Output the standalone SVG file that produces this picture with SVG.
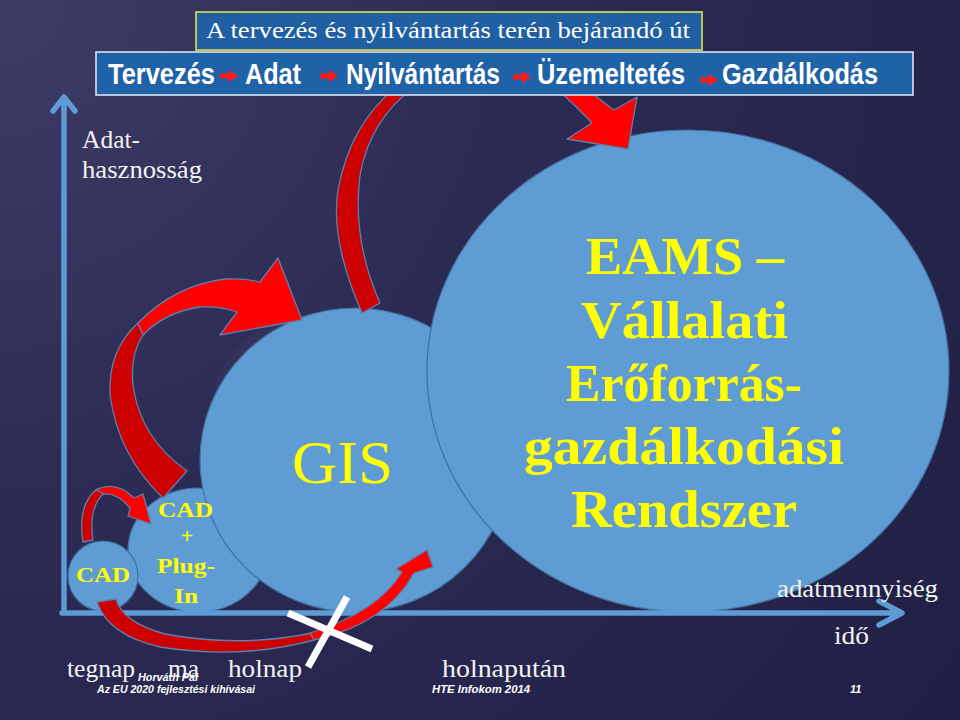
<svg xmlns="http://www.w3.org/2000/svg" width="960" height="720" viewBox="0 0 960 720">
<defs>
<radialGradient id="bg" cx="0" cy="0" r="1200" gradientUnits="userSpaceOnUse">
<stop offset="0" stop-color="#3d3c66"/>
<stop offset="0.45" stop-color="#2b2a53"/>
<stop offset="1" stop-color="#202046"/>
</radialGradient>
<g id="harrow"><path d="M0,-2.5 H9 V-6 L18,0 L9,6 V2.5 H0 Z" fill="#ff1a1a"/></g>
</defs>
<style>
.circ{fill:#5f9cd3;stroke:#41709e;stroke-width:1.2}
.ax{stroke:#5d9bd5;stroke-width:5.5;fill:none;stroke-linecap:round;stroke-linejoin:round}
.lbl{font-family:"Liberation Serif","DejaVu Serif",serif;font-size:25px;fill:#f2f2f2}
.yel{font-family:"Liberation Serif","DejaVu Serif",serif;font-weight:bold;fill:#ffff00}
.hw{font-family:"Liberation Sans",Arial,sans-serif;font-weight:bold;font-size:30px;fill:#ffffff}
.foot{font-family:"Liberation Sans",Arial,sans-serif;font-weight:bold;font-style:italic;font-size:11px;fill:#ffffff}
.dk{fill:#cc0000;stroke:#5f7fae;stroke-width:1.3;stroke-linejoin:round}
.br{fill:#ff0000;stroke:#5f7fae;stroke-width:1.3;stroke-linejoin:round}
</style>
<rect width="960" height="720" fill="url(#bg)"/>
<ellipse cx="300" cy="420" rx="90" ry="100" fill="#ffffff" opacity="0.025"/>

<g id="node-plugin">
<ellipse class="circ" cx="198" cy="550" rx="70" ry="62"/>
</g>
<g id="node-cad">
<circle class="circ" cx="103" cy="576" r="35"/>
<text class="yel" font-size="22" x="76" y="582" textLength="54" lengthAdjust="spacingAndGlyphs">CAD</text>
</g>
<g id="node-gis">
<ellipse class="circ" cx="355" cy="460" rx="155" ry="152"/>
<text x="292" y="483" font-family="Liberation Serif, DejaVu Serif, serif" font-size="62" fill="#ffff00" textLength="101" lengthAdjust="spacingAndGlyphs">GIS</text>
</g>
<g id="node-plugin-label">
<text class="yel" font-size="22" x="158" y="517" textLength="55" lengthAdjust="spacingAndGlyphs">CAD</text>
<text class="yel" font-size="22" x="187" y="543" text-anchor="middle">+</text>
<text class="yel" font-size="22" x="157" y="573" textLength="58" lengthAdjust="spacingAndGlyphs">Plug-</text>
<text class="yel" font-size="22" x="174" y="603" textLength="24" lengthAdjust="spacingAndGlyphs">In</text>
</g>
<g id="node-eams">
<ellipse class="circ" cx="688" cy="371" rx="261" ry="241"/>
<text class="yel" font-size="52" x="586" y="274" textLength="198" lengthAdjust="spacingAndGlyphs">EAMS –</text>
<text class="yel" font-size="52" x="581" y="338" textLength="207" lengthAdjust="spacingAndGlyphs">Vállalati</text>
<text class="yel" font-size="52" x="566" y="401" textLength="236" lengthAdjust="spacingAndGlyphs">Erőforrás-</text>
<text class="yel" font-size="52" x="524" y="464" textLength="320" lengthAdjust="spacingAndGlyphs">gazdálkodási</text>
<text class="yel" font-size="52" x="571" y="527" textLength="226" lengthAdjust="spacingAndGlyphs">Rendszer</text>
</g>

<g id="axes">
<path class="ax" d="M64,612 V100 M53,111 L64,97 L75,111"/>
<path class="ax" d="M62,613 H900 M879,601 L902,613 L879,625"/>
</g>

<g id="connectors">
<path class="dk" d="M83,542 Q77,505 97,489 L104,493 Q88,508 93,540 Z"/>
<path class="br" d="M96,490 Q116,480 134,498 L143,494 L151,524 L128,516 L130,508 Q118,493 104,494 Z"/>
<path class="dk" d="M163,498 Q118,455 110,395 Q108,350 138,323 L143,335 Q130,355 133,385 Q140,438 187,471 Z"/>
<path class="br" d="M138,323 Q175,285 225,279 Q245,278 260,282 L278,258 L302,320 L220,335 L237,312 Q220,306 200,307 Q165,312 143,335 Z"/>
<path class="dk" d="M395,88 L413,88 Q370,120 360,175 Q352,240 380,303 L362,313 Q330,240 338,190 Q350,125 395,88 Z"/>
<path class="br" d="M556,88 L586,88 Q600,100 614,110 L637,97 L628,149 L567,139 L592,123 Q575,105 556,88 Z"/>
<path class="dk" d="M97,602 L116,599 Q122,622 165,634 Q240,648 312,633 L314,640 Q240,660 160,647 Q108,635 97,602 Z"/>
<path class="br" d="M310,633 Q378,612 402,572 L396,569 L427,550 L433,567 L414,573 Q386,624 314,640 Z"/>
<path d="M288,613 L372,649 M347,597 L308,667" stroke="#ffffff" stroke-width="7" fill="none"/>
</g>

<g id="title">
<rect x="196" y="12" width="506" height="38" fill="#1f5fa2" stroke="#b8c456" stroke-width="2"/>
<text x="206" y="38" font-family="Liberation Serif, DejaVu Serif, serif" font-size="24" fill="#ffffff" textLength="484" lengthAdjust="spacingAndGlyphs">A tervezés és nyilvántartás terén bejárandó út</text>
</g>
<g id="header">
<rect x="96" y="52" width="817" height="43" fill="#1f62a8" stroke="#e6ecf6" stroke-width="1.5"/>
<text class="hw" x="108" y="84" textLength="107" lengthAdjust="spacingAndGlyphs">Tervezés</text>
<use href="#harrow" x="220" y="76"/>
<text class="hw" x="245" y="84" textLength="56" lengthAdjust="spacingAndGlyphs">Adat</text>
<use href="#harrow" x="320" y="76"/>
<text class="hw" x="346" y="84" textLength="154" lengthAdjust="spacingAndGlyphs">Nyilvántartás</text>
<use href="#harrow" x="513" y="77"/>
<text class="hw" x="537" y="84" textLength="148" lengthAdjust="spacingAndGlyphs">Üzemeltetés</text>
<use href="#harrow" x="700" y="80"/>
<text class="hw" x="722" y="84" textLength="156" lengthAdjust="spacingAndGlyphs">Gazdálkodás</text>
</g>

<g id="labels">
<text class="lbl" x="82" y="148" textLength="58" lengthAdjust="spacingAndGlyphs">Adat-</text>
<text class="lbl" x="82" y="178" textLength="120" lengthAdjust="spacingAndGlyphs">hasznosság</text>
<text class="lbl" x="777" y="597" textLength="161" lengthAdjust="spacingAndGlyphs">adatmennyiség</text>
<text class="lbl" x="834" y="644" textLength="35" lengthAdjust="spacingAndGlyphs">idő</text>
<text class="lbl" x="67" y="677" textLength="68" lengthAdjust="spacingAndGlyphs">tegnap</text>
<text class="lbl" x="168" y="677" textLength="31" lengthAdjust="spacingAndGlyphs">ma</text>
<text class="lbl" x="228" y="677" textLength="74" lengthAdjust="spacingAndGlyphs">holnap</text>
<text class="lbl" x="442" y="677" textLength="124" lengthAdjust="spacingAndGlyphs">holnapután</text>
</g>
<g id="footer">
<text class="foot" x="138" y="681" textLength="60" lengthAdjust="spacingAndGlyphs">Horváth Pál</text>
<text class="foot" x="97" y="693" textLength="158" lengthAdjust="spacingAndGlyphs">Az EU 2020 fejlesztési kihívásai</text>
<text class="foot" x="432" y="693" textLength="98" lengthAdjust="spacingAndGlyphs">HTE Infokom 2014</text>
<text class="foot" x="850" y="693">11</text>
</g>
</svg>
